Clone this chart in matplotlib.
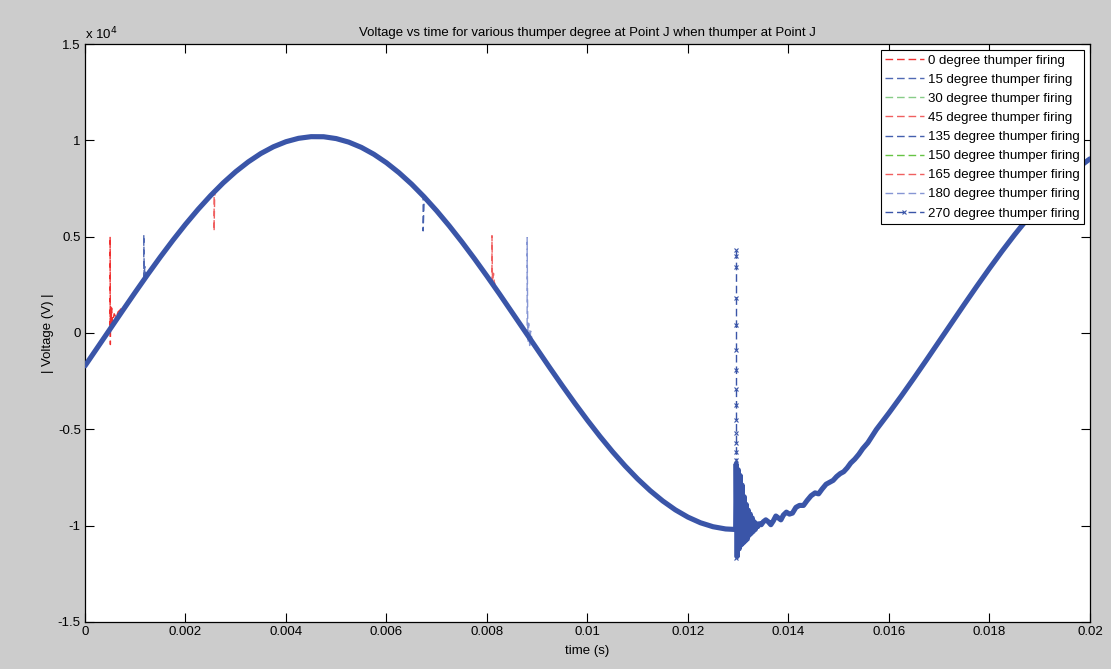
import numpy as np
import matplotlib
matplotlib.use("Agg")
import matplotlib.pyplot as plt

plt.rcParams['font.family'] = ['Liberation Sans', 'DejaVu Sans']

# ---- data ----
# steady 60 Hz waveform sampled every 0.25 ms
time_base = np.linspace(0.0, 0.02, 81)
volt_base = [-1706, -752, 208, 1167, 2115, 3045, 3948, 4815, 5640, 6415,
             7133, 7789, 8373, 8883, 9317, 9666, 9929, 10105, 10191, 10187,
             10091, 9907, 9635, 9276, 8836, 8318, 7728, 7064, 6340, 5560,
             4731, 3860, 2953, 2022, 1071, 112, -848, -1801, -2738, -3651,
             -4531, -5370, -6163, -6901, -7578, -8186, -8721, -9181, -9558, -9851,
             -10056, -10172, -10198, -10133, -9978, -9735, -9404, -8991, -8499, -7930,
             -7292, -6587, -5825, -5012, -4153, -3259, -2335, -1390, -432, 528,
             1485, 2428, 3349, 4241, 5095, 5904, 6661, 7359, 7993, 8553, 9037]

# 270 degree firing: transient after fault
t270_fault = [0.01290, 0.01295, 0.01296, 0.01298, 0.01300, 0.01302, 0.01304, 0.01306,
              0.01308, 0.01310, 0.01312, 0.01314, 0.01316, 0.01318, 0.01320, 0.01322,
              0.01324, 0.01326, 0.01328, 0.01330, 0.01332, 0.01334, 0.01336, 0.01339,
              0.01342, 0.01346, 0.01350, 0.01355, 0.01360, 0.01365, 0.01370, 0.01375,
              0.01380, 0.01385, 0.01390, 0.01396, 0.01402, 0.01408, 0.01415, 0.01422,
              0.01430, 0.01437, 0.01445, 0.01453, 0.01460, 0.01467, 0.01475, 0.01482,
              0.01489, 0.01496, 0.01503, 0.01510, 0.01517, 0.01524, 0.01532, 0.01540,
              0.01548, 0.01558]
v270_fault = [-10190, -10200, -6800, -11600, -7100, -11200, -7400, -11000,
              -7900, -10900, -8500, -10800, -8900, -10700, -9200, -10500,
              -9400, -10400, -9600, -10300, -9800, -10200, -9900, -10050,
              -9900, -9950, -9800, -9700, -9800, -9950, -9750, -9500,
              -9600, -9700, -9450, -9300, -9400, -9350, -9050, -8950,
              -8950, -8700, -8450, -8300, -8350, -8100, -7850, -7750,
              -7650, -7450, -7300, -7200, -7000, -6750, -6550, -6300,
              -6000, -5700]
# 270 degree spike samples (vertical)
t270_spike = [0.01296] * 16
v270_spike = [-11700, -7000, -6590, -6175, -5708, -5189, -4515, -3736,
              -2906, -1920, -882, 415, 1816, 3425, 4000, 4300]

t0 = [0.00049, 0.0005, 0.0005, 0.000505, 0.00051, 0.00052, 0.00053, 0.00055, 0.00058, 0.00062, 0.00066, 0.0007, 0.00075]
v0 = [250, 250, 5000, -600, 1400, 300, 1300, 500, 1000, 800, 1100, 1200, 1400]
t15 = [0.00115, 0.00117, 0.00117, 0.00118, 0.00119, 0.0012, 0.00122]
v15 = [2750, 2800, 5100, 2900, 3450, 3000, 3150]
t30 = [0.00187, 0.00189, 0.00191]
v30 = [5200, 5350, 5300]
t45 = [0.00255, 0.00257, 0.00257, 0.00258, 0.00259]
v45 = [7150, 7400, 5300, 7000, 7300]
t135 = [0.0067, 0.00673, 0.00673, 0.00675, 0.00677]
v135 = [7250, 7150, 5300, 6900, 7000]
t150 = [0.00742, 0.00744, 0.00746]
v150 = [5050, 4950, 4850]
t165 = [0.00809, 0.0081, 0.0081, 0.00811, 0.00813, 0.00815, 0.00817]
v165 = [2650, 2600, 5050, 2500, 3100, 2500, 2800]
t180 = [0.00878, 0.0088, 0.0088, 0.00881, 0.00882, 0.00883, 0.00885, 0.00887, 0.0089]
v180 = [0, -100, 4950, 900, -500, 500, -650, 100, -400]

labels = ['0 degree thumper firing', '15 degree thumper firing', '30 degree thumper firing',
          '45 degree thumper firing', '135 degree thumper firing', '150 degree thumper firing',
          '165 degree thumper firing', '180 degree thumper firing', '270 degree thumper firing']
colors = ['#f03030', '#5069b4', '#88cc88', '#f06060', '#4460ae', '#66c444', '#f06060', '#8696d4', '#3a55a8']

xticks = [0, 0.002, 0.004, 0.006, 0.008, 0.01, 0.012, 0.014, 0.016, 0.018, 0.02]
xticklabels = ['0', '0.002', '0.004', '0.006', '0.008', '0.01', '0.012', '0.014', '0.016', '0.018', '0.02']
yticks = [-15000, -10000, -5000, 0, 5000, 10000, 15000]
yticklabels = ['-1.5', '-1', '-0.5', '0', '0.5', '1', '1.5']

# ---- figure ----
fig = plt.figure(figsize=(11.11, 6.69), dpi=100, facecolor='#cccccc')
ax = fig.add_axes([0.0765, 0.0703, 0.9045, 0.8639])
ax.set_facecolor('white')

DASH = (5.5, 2.8)
spikes = [(t0, v0), (t15, v15), (t30, v30), (t45, v45), (t135, v135),
          (t150, v150), (t165, v165), (t180, v180)]
handles = []
for (tt, vv), lab, col in zip(spikes, labels[:8], colors[:8]):
    h, = ax.plot(tt, vv, ls='--', dashes=DASH, color=col, lw=1.0, label=lab, zorder=2)
    handles.append(h)

# 270 series: base waveform with fault transient
tb = np.asarray(time_base)
vb = np.asarray(volt_base, dtype=float)
keep = (tb < 0.01290) | (tb > 0.01560)
t270 = np.concatenate([tb[keep], t270_fault])
v270 = np.concatenate([vb[keep], v270_fault])
order = np.argsort(t270, kind='stable')
ax.plot(t270[order], v270[order], '-', color=colors[8], lw=3.7, zorder=3,
        solid_capstyle='round', solid_joinstyle='round')
h270, = ax.plot(t270_spike, v270_spike, ls='--', dashes=DASH, color=colors[8], lw=1.0,
                marker='x', markersize=3, markeredgewidth=0.8, zorder=4, label=labels[8])
handles.append(h270)

ax.set_xlim(0, 0.02)
ax.set_ylim(-15000, 15000)
ax.set_xticks(xticks)
ax.set_xticklabels(xticklabels)
ax.set_yticks(yticks)
ax.set_yticklabels(yticklabels)
ax.tick_params(direction='in', length=6.5, width=0.8, top=True, right=True,
               labelsize=9.5, pad=3, colors='black')
for sp in ax.spines.values():
    sp.set_linewidth(0.9)
    sp.set_color('black')

ax.set_title('Voltage vs time for various thumper degree at Point J when thumper at Point J',
             fontsize=9.5, pad=6)
ax.set_xlabel('time (s)', fontsize=9.5, labelpad=5)
ax.set_ylabel('| Voltage (V) |', fontsize=9.5, labelpad=3)
fig.text(0.0765, 0.937, r'x 10$^{4}$', fontsize=9.5, ha='left', va='bottom')

leg = ax.legend(handles=handles, loc='upper right', fontsize=9.5, numpoints=1,
                handlelength=2.9, handletextpad=0.3, labelspacing=0.52,
                borderpad=0.35, borderaxespad=0.45, fancybox=False, framealpha=1)
leg.get_frame().set_edgecolor('black')
leg.get_frame().set_linewidth(0.8)

fig.savefig('out.png', dpi=100, facecolor=fig.get_facecolor())
